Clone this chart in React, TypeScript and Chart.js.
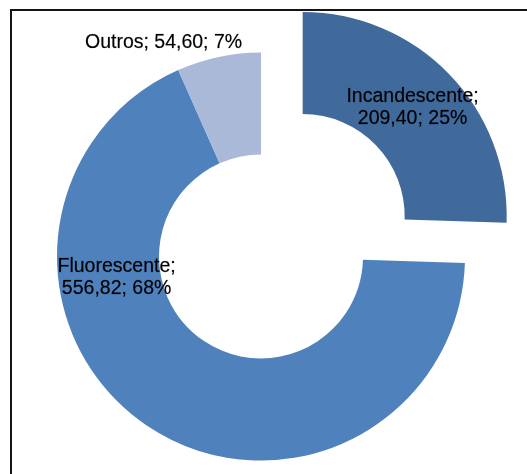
import React, { useEffect, useRef } from "react";
import { Chart, registerables } from "chart.js";

Chart.register(...registerables);

const categories = ["Incandescente", "Fluorescente", "Outros"];
const values = [209.4, 556.82, 54.6];
const percentLabels = ["25%", "68%", "7%"];
const valueLabels = ["209,40", "556,82", "54,60"];
const colors = ["#40699C", "#4F81BD", "#AAB9D8"];
const offsets = [232, 0, 0];

// label placement: null = arc centroid; otherwise canvas angle (deg) and radius in px
const labelPlacement: ({ angle: number; r: number } | null)[] = [
  null,
  { angle: 171.5, r: 146 },
  { angle: -114.5, r: 235 },
];

const framePlugin = {
  id: "frame",
  beforeDraw(chart: any) {
    const ctx = chart.ctx;
    ctx.save();
    ctx.fillStyle = "#151515";
    ctx.fillRect(10, 9, chart.width, 2);
    ctx.fillRect(10, 9, 2, chart.height);
    ctx.restore();
  },
};

const labelPlugin = {
  id: "sliceLabels",
  afterDatasetsDraw(chart: any) {
    const ctx = chart.ctx;
    const meta = chart.getDatasetMeta(0);
    ctx.save();
    ctx.font = "19.5px 'Liberation Sans', Arial, sans-serif";
    ctx.fillStyle = "#000";
    ctx.strokeStyle = "rgba(0,0,0,0.35)";
    ctx.lineWidth = 0.5;
    ctx.textAlign = "center";
    ctx.textBaseline = "middle";
    const draw = (t: string, x: number, y: number) => {
      ctx.fillText(t, x, y);
      ctx.strokeText(t, x, y);
    };
    meta.data.forEach((arc: any, i: number) => {
      const { x, y, startAngle, endAngle, innerRadius, outerRadius } = arc.getProps(
        ["x", "y", "startAngle", "endAngle", "innerRadius", "outerRadius"],
        true
      );
      const mid = (startAngle + endAngle) / 2;
      const off = (arc.options.offset || 0) / 4;
      const cx = x + Math.cos(mid) * off;
      const cy = y + Math.sin(mid) * off;
      let px: number, py: number;
      const p = labelPlacement[i];
      if (p) {
        const a = (p.angle * Math.PI) / 180;
        px = cx + Math.cos(a) * p.r;
        py = cy + Math.sin(a) * p.r;
      } else {
        const r = (innerRadius + outerRadius) / 2;
        px = cx + Math.cos(mid) * r;
        py = cy + Math.sin(mid) * r - 2;
      }
      const line1 = categories[i] + ";";
      const line2 = valueLabels[i] + "; " + percentLabels[i];
      if (i === 2) {
        draw(line1 + " " + line2, px, py);
      } else {
        draw(line1, px, py - 11);
        draw(line2, px, py + 11);
      }
    });
    ctx.restore();
  },
};

export default function App() {
  const canvasRef = useRef<HTMLCanvasElement | null>(null);
  useEffect(() => {
    if (!canvasRef.current) return;
    const chart = new Chart(canvasRef.current, {
      type: "doughnut",
      data: {
        labels: categories,
        datasets: [
          {
            data: values,
            backgroundColor: colors,
            borderWidth: 0,
            offset: offsets,
            hoverOffset: 0,
          },
        ],
      },
      options: {
        animation: false,
        responsive: false,
        radius: 204,
        cutout: "50%",
        layout: { padding: { left: 0, right: 5, top: 39, bottom: 0 } },
        plugins: {
          legend: { display: false },
          tooltip: { enabled: false },
        },
      },
      plugins: [framePlugin, labelPlugin],
    });
    return () => chart.destroy();
  }, []);
  return (
    <div style={{ position: "absolute", left: 0, top: 0, width: 527, height: 474, background: "#fff" }}>
      <canvas ref={canvasRef} width={527} height={474} style={{ width: 527, height: 474 }} />
    </div>
  );
}
